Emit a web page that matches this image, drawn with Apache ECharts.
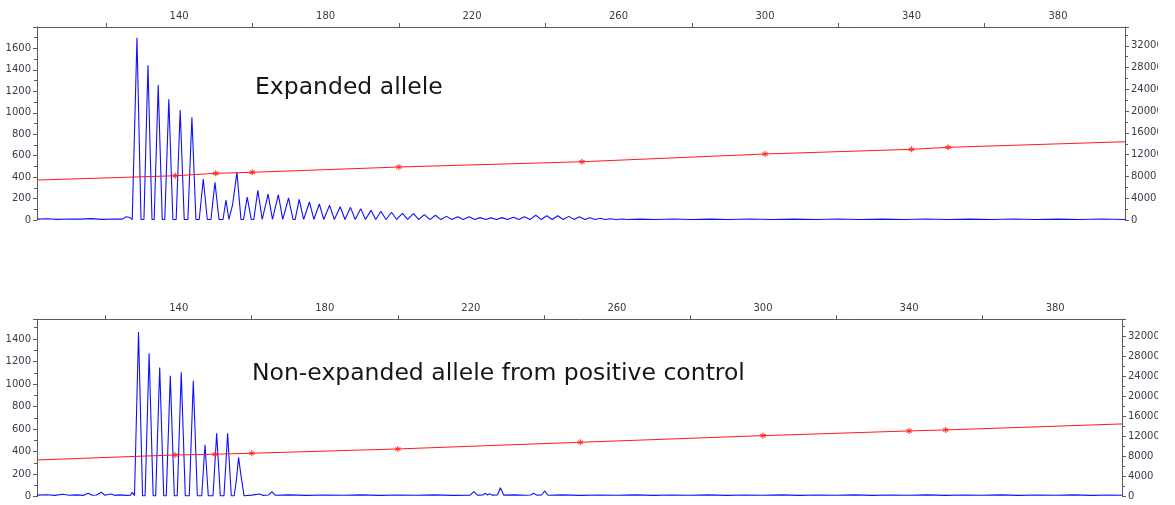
<!DOCTYPE html>
<html>
<head>
<meta charset="utf-8">
<title>Electropherogram</title>
<script src="https://cdn.jsdelivr.net/npm/echarts@6/dist/echarts.min.js"></script>
<style>
  html, body { margin: 0; padding: 0; background: #fff; }
  #chart { width: 1175px; height: 505px; }
</style>
</head>
<body>
<div id="chart"></div>
<script>
// size axis (bp) ticks and labels
const xRange = [101.2, 398.3];
const xTickValues = [120, 160, 200, 240, 280, 320, 360];
const xLabelValues = [140, 180, 220, 260, 300, 340, 380];

// size standard peaks (bp) and the sizing curve read against the right axis
const sizeStd = [139, 150, 160, 200, 250, 300, 340, 350];
const topLadder = [8130, 8570, 8760, 9730, 10700, 12120, 12980, 13350];
const bottomLadder = [8340, 8480, 8680, 9540, 10880, 12200, 13140, 13340];
const topCurveEnds = [7340, 14370];
const bottomCurveEnds = [7340, 14540];

// blue trace, expanded allele: [bp, rfu]
const topTrace = [
  [101.2, 8], [104, 12], [107, 6], [110, 10], [113, 8], [116, 13], [119, 6], [122, 10], [124.5, 8], [125.6, 30], [126.5, 24], [127.2, 3],
  [127.4, 3], [128.5, 1699], [129.6, 5],
  [130.4, 5], [131.5, 1444], [132.6, 5],
  [133.2, 5], [134.3, 1258], [135.4, 5],
  [136.1, 5], [137.2, 1127], [138.3, 5],
  [139.2, 5], [140.3, 1025], [141.4, 5],
  [142.4, 5], [143.5, 957], [144.6, 5],
  [145.5, 5], [146.6, 382], [147.7, 5],
  [148.7, 5], [149.8, 351], [150.9, 5],
  [152.0, 5], [152.8, 186], [153.6, 5],
  [154.6, 140], [155.8, 444], [156.9, 5],
  [157.6, 5], [158.6, 214], [159.7, 5],
  [160.4, 5], [161.5, 276], [162.7, 5],
  [163.2, 5], [164.3, 242], [165.5, 5],
  [166.0, 5], [167.1, 236], [168.3, 5],
  [168.8, 5], [169.9, 205], [171.1, 5],
  [171.7, 5], [172.8, 193], [174.0, 5],
  [174.5, 5], [175.6, 168], [176.8, 5],
  [177.2, 5], [178.3, 149], [179.5, 5],
  [180.0, 5], [181.1, 137], [182.4, 5],
  [182.8, 5], [184.0, 124], [185.3, 5],
  [185.6, 5], [186.8, 118], [188.1, 5],
  [188.4, 5], [189.6, 106], [190.9, 5],
  [191.2, 5], [192.4, 90], [193.7, 5],
  [194.0, 5], [195.1, 81], [196.5, 5],
  [196.8, 5], [198.0, 72], [199.4, 5],
  [199.7, 5], [201.0, 62], [202.4, 5],
  [202.7, 5], [204.0, 59], [205.4, 5],
  [207.0, 50], [208.5, 4], [210.0, 44], [211.5, 4], [213.0, 34], [214.5, 4], [216.1, 31], [217.6, 4],
  [219.2, 31], [220.7, 4], [222.2, 22], [223.7, 4], [225.2, 20], [226.7, 4], [228.2, 22], [229.7, 4],
  [231.3, 25], [232.8, 4], [234.3, 31], [235.8, 4], [237.4, 44], [238.9, 4], [240.4, 40], [241.9, 4],
  [243.4, 40], [244.9, 4], [246.4, 34], [247.9, 4], [249.3, 31], [250.8, 4], [252.2, 22], [253.6, 4],
  [255.0, 16], [256.4, 4], [257.7, 12], [259.3, 4], [260.9, 9], [262.5, 4],
  [266, 8], [270, 4], [275, 9], [280, 5], [285, 8], [290, 4], [296, 9], [302, 5], [308, 8], [314, 4],
  [320, 9], [326, 5], [332, 8], [338, 4], [344, 9], [350, 5], [356, 8], [362, 4], [368, 9], [374, 5],
  [380, 8], [386, 4], [392, 9], [398.3, 5]
];

// blue trace, non-expanded allele from positive control: [bp, rfu]
const bottomTrace = [
  [101.2, 14], [104, 17], [106, 12], [108.3, 22], [110, 13], [112, 16], [114, 12], [115.2, 30], [116.3, 13], [117.5, 15],
  [118.8, 40], [119.8, 13], [121.4, 24], [122.5, 12], [124, 16], [125.5, 12], [126.8, 14], [127.3, 38], [127.9, 10],
  [128.0, 8], [129.0, 1462], [130.1, 8],
  [130.8, 8], [131.9, 1273], [133.0, 8],
  [133.7, 8], [134.8, 1148], [135.9, 8],
  [136.6, 8], [137.7, 1074], [138.8, 8],
  [139.6, 8], [140.7, 1104], [141.8, 8],
  [142.9, 8], [144.0, 1030], [145.1, 8],
  [146.3, 8], [147.2, 462], [148.1, 8],
  [149.4, 8], [150.4, 562], [151.4, 8],
  [152.4, 8], [153.4, 562], [154.4, 8],
  [155.2, 8], [155.8, 150], [156.4, 349], [157.0, 200], [157.9, 8],
  [160, 14], [162.2, 24], [163.0, 12], [164.6, 15], [165.5, 45], [166.4, 13], [170, 16], [175, 12], [180, 15],
  [185, 13], [190, 16], [195, 12], [200, 15], [205, 13], [210, 16], [215, 12], [219.8, 14], [220.8, 45], [221.8, 14],
  [223.3, 15], [223.9, 30], [224.5, 16], [225.1, 27], [225.8, 14], [227.3, 15], [228.1, 80], [229.0, 14], [232, 16],
  [235, 13], [236.4, 15], [237.2, 30], [238, 14], [239.4, 15], [240.2, 51], [241.1, 13], [245, 16], [250, 12],
  [255, 15], [260, 13], [265, 16], [270, 12], [275, 15], [280, 13], [285, 16], [290, 12], [295, 15], [300, 13],
  [305, 16], [310, 12], [315, 15], [320, 13], [325, 16], [330, 12], [335, 15], [340, 13], [345, 16], [350, 12],
  [355, 15], [360, 13], [365, 16], [370, 12], [375, 15], [380, 13], [385, 16], [390, 12], [395, 15], [398.3, 13]
];

const panelTitles = ['Expanded allele', 'Non-expanded allele from positive control'];
const leftMax = [1800, 1575];
const rightMax = 35450;

const axisGray = '#5a5a5a';
const labelColor = '#3a3a4a';
const labelFont = 'DejaVu Sans';

function curve(ends, ladder) {
  let pts = [[xRange[0], ends[0]]];
  sizeStd.forEach((bp, i) => pts.push([bp, ladder[i]]));
  pts.push([xRange[1], ends[1]]);
  return pts;
}

// plain numbers, no thousands separator
const plain = v => String(v);

function xAxisFor(grid) {
  return {
    type: 'value', gridIndex: grid, position: 'top',
    min: xRange[0], max: xRange[1],
    axisLine: { show: true, onZero: false, lineStyle: { color: axisGray, width: 1 } },
    axisTick: { show: true, customValues: xTickValues, length: 4, lineStyle: { color: axisGray } },
    axisLabel: { customValues: xLabelValues, formatter: plain, color: labelColor, fontFamily: labelFont, fontSize: 10, margin: 6 },
    splitLine: { show: false }
  };
}

function leftAxisFor(grid, max) {
  return {
    type: 'value', gridIndex: grid, position: 'left',
    min: 0, max: max, interval: 200,
    axisLine: { show: true, onZero: false, lineStyle: { color: axisGray } },
    axisTick: { show: true, length: 4, lineStyle: { color: axisGray } },
    minorTick: { show: true, splitNumber: 2, length: 3, lineStyle: { color: axisGray } },
    axisLabel: { formatter: plain, color: labelColor, fontFamily: labelFont, fontSize: 10, margin: 6, showMaxLabel: false },
    splitLine: { show: false }
  };
}

function rightAxisFor(grid) {
  return {
    type: 'value', gridIndex: grid, position: 'right',
    min: 0, max: rightMax, interval: 4000,
    axisLine: { show: true, onZero: false, lineStyle: { color: axisGray } },
    axisTick: { show: true, length: 4, lineStyle: { color: axisGray } },
    minorTick: { show: true, splitNumber: 2, length: 3, lineStyle: { color: axisGray } },
    axisLabel: { formatter: plain, color: labelColor, fontFamily: labelFont, fontSize: 10, margin: 6, showMaxLabel: false },
    splitLine: { show: false }
  };
}

const asterisk = 'path://M4,0H6V3.2L8.8,1.6L9.8,3.3L7,5L9.8,6.7L8.8,8.4L6,6.8V10H4V6.8L1.2,8.4L0.2,6.7L3,5L0.2,3.3L1.2,1.6L4,3.2Z';

function seriesFor(panel, trace, ladder, ends) {
  return [
    {
      type: 'line', xAxisIndex: panel, yAxisIndex: panel * 2, data: trace,
      showSymbol: false, symbol: 'none', sampling: null, z: 2,
      lineStyle: { color: '#1010ff', width: 1.1 }
    },
    {
      type: 'line', xAxisIndex: panel, yAxisIndex: panel * 2 + 1, data: curve(ends, ladder),
      showSymbol: false, symbol: 'none', z: 3,
      lineStyle: { color: '#ff1a1a', width: 1 }
    },
    {
      type: 'scatter', xAxisIndex: panel, yAxisIndex: panel * 2 + 1,
      data: sizeStd.map((bp, i) => [bp, ladder[i]]),
      symbol: asterisk, symbolSize: 6, z: 4,
      itemStyle: { color: '#ff1a1a' }
    }
  ];
}

let chart = echarts.init(document.getElementById('chart'), null, { renderer: 'canvas' });
chart.setOption({
  animation: false,
  backgroundColor: '#ffffff',
  grid: [
    { left: 37, right: 50, top: 27, height: 193 },
    { left: 37, right: 53, top: 319.3, height: 177.4 }
  ],
  xAxis: [xAxisFor(0), xAxisFor(1)],
  yAxis: [leftAxisFor(0, leftMax[0]), rightAxisFor(0), leftAxisFor(1, leftMax[1]), rightAxisFor(1)],
  series: [].concat(
    seriesFor(0, topTrace, topLadder, topCurveEnds),
    seriesFor(1, bottomTrace, bottomLadder, bottomCurveEnds)
  ),
  graphic: [
    {
      type: 'text', left: 255, top: 76, z: 10,
      style: { text: panelTitles[0], font: '23.5px "DejaVu Sans"', fill: '#161616' }
    },
    {
      type: 'text', left: 252, top: 362, z: 10,
      style: { text: panelTitles[1], font: '23.5px "DejaVu Sans"', fill: '#161616' }
    },
    // the reference image is cut just past the right axis labels
    {
      type: 'rect', right: 0, top: 0, z: 100,
      shape: { width: 17, height: 505 },
      style: { fill: '#ffffff' }
    }
  ]
});
</script>
</body>
</html>
